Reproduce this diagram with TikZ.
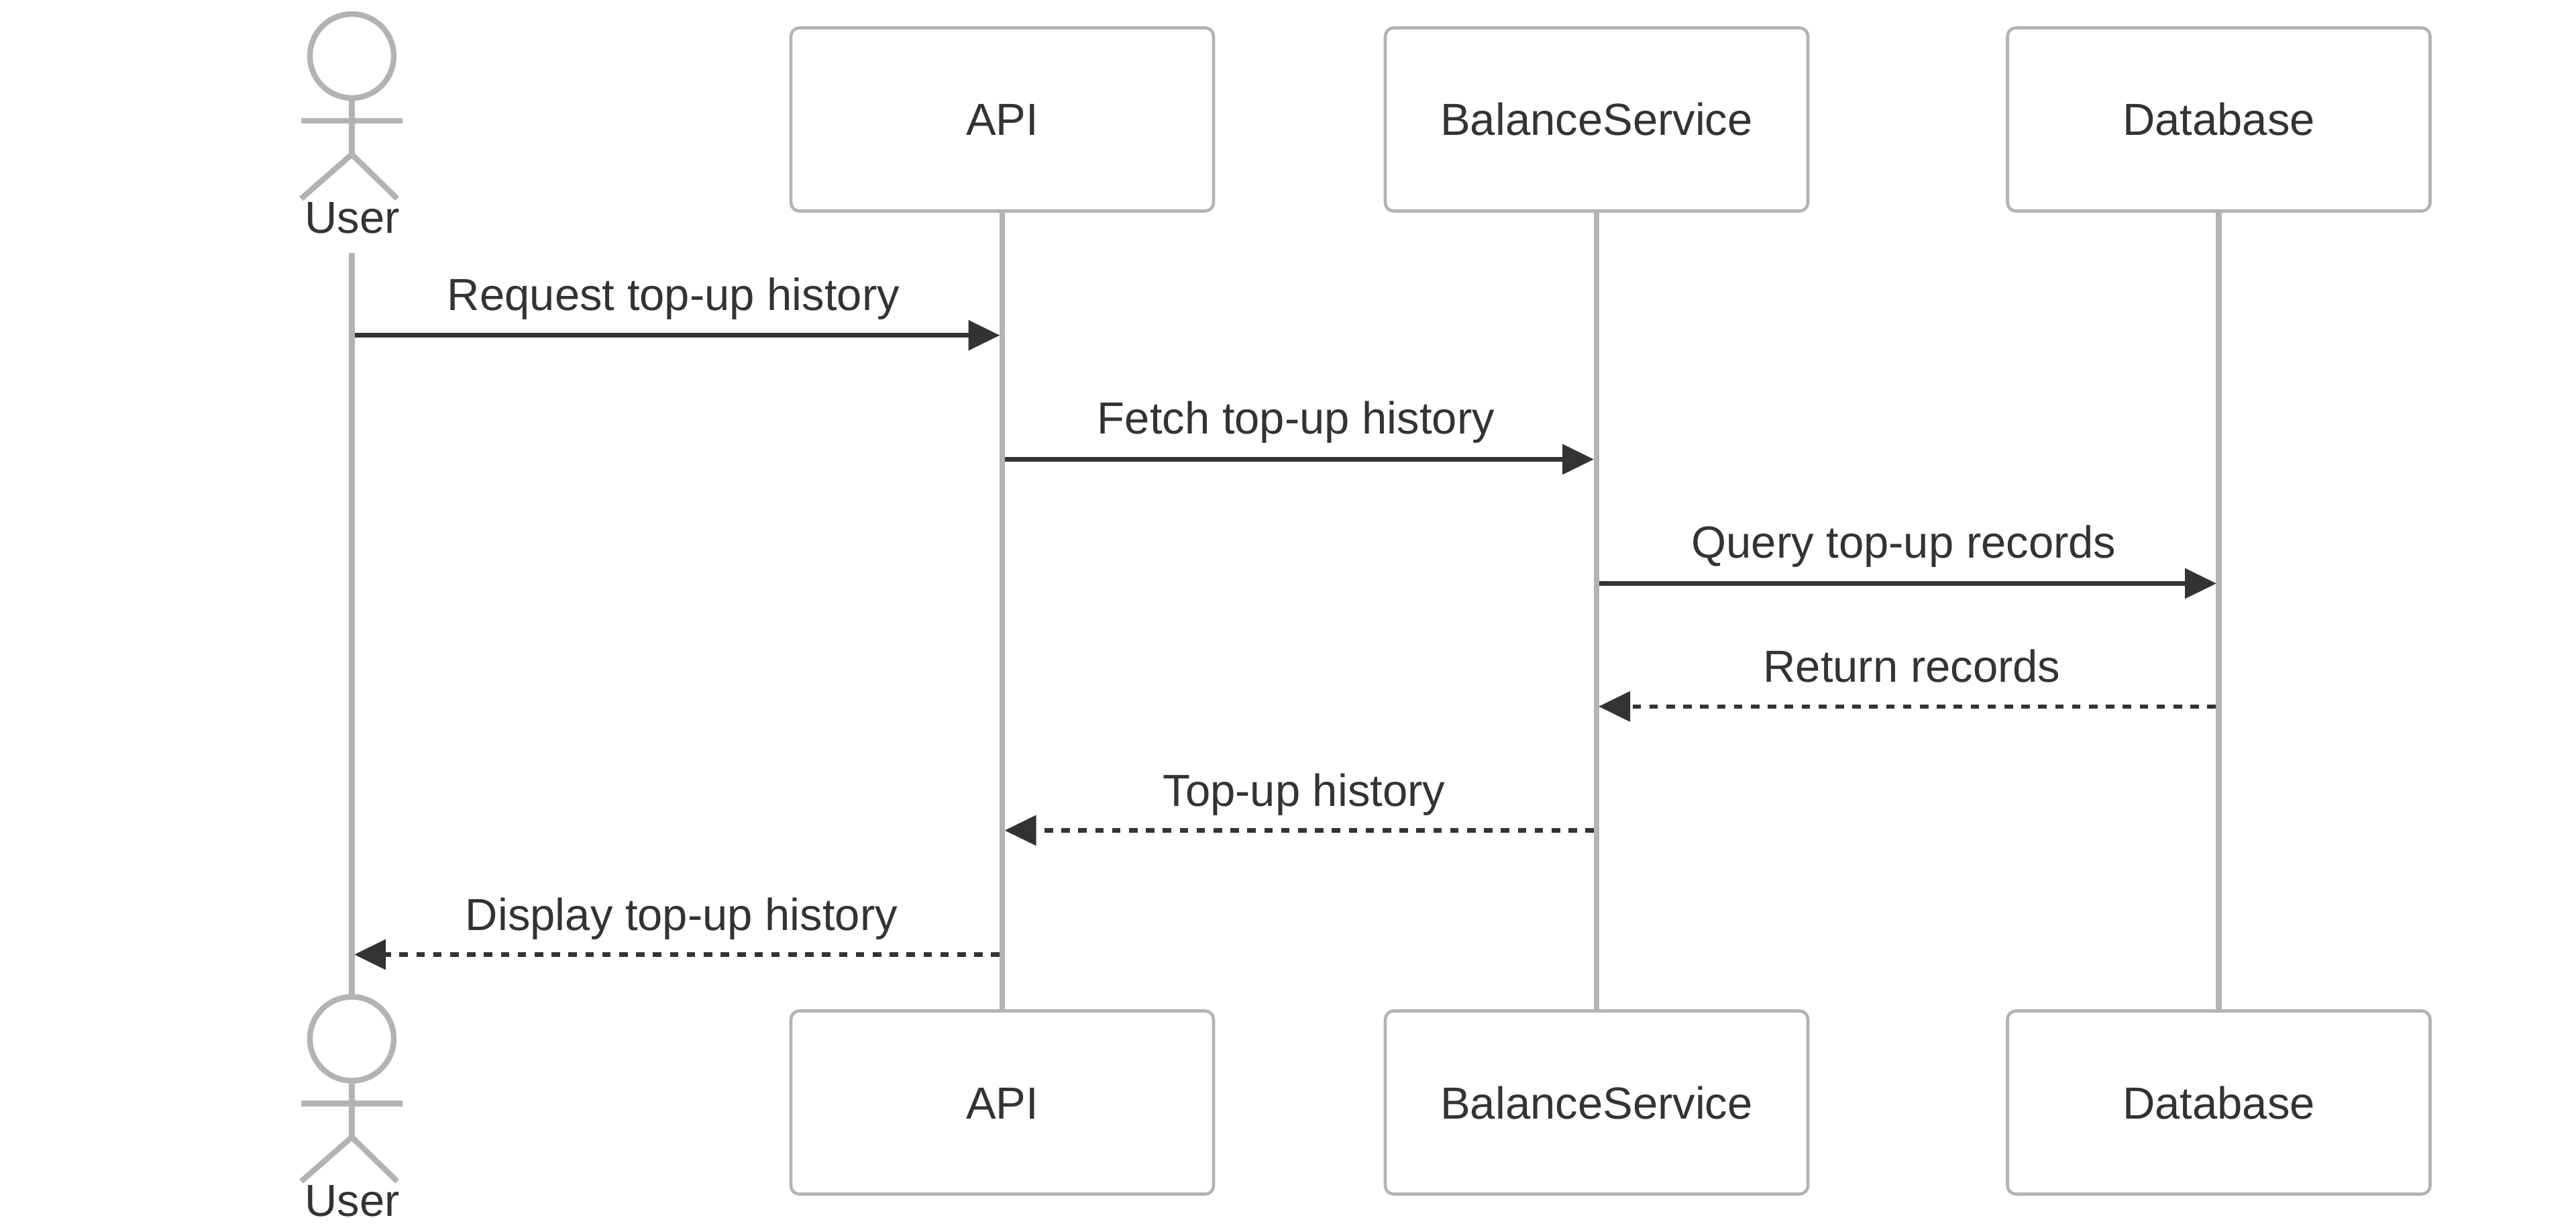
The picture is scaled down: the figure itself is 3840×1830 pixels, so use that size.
\documentclass[tikz,border=0pt]{standalone}
\usepackage{fontspec}
\setmainfont{Liberation Sans}
\usetikzlibrary{arrows.meta}
\definecolor{lifegray}{HTML}{B3B3B3}
\definecolor{inkdark}{HTML}{333333}
\tikzset{
  x=0.5pt,y=-0.5pt,
  every node/.style={font=\fontsize{33.5pt}{40pt}\selectfont,text=inkdark},
  partbox/.style={draw=lifegray,line width=2.3pt,fill=white,rounded corners=6.3pt,inner sep=0pt,
    minimum width=315pt,minimum height=136.5pt,text height=24pt,text depth=0pt},
  lifeline/.style={draw=lifegray,line width=4.2pt},
  actorhead/.style={circle,draw=lifegray,line width=4.2pt,fill=white,inner sep=0pt,minimum size=62.5pt},
  actorlimb/.style={draw=lifegray,line width=4.2pt},
  msglabel/.style={anchor=base,inner sep=0pt},
  syncmsg/.style={draw=inkdark,line width=3.3pt,-{Triangle[length=23.5pt,width=22pt]}},
  replymsg/.style={syncmsg,dash pattern=on 6.3pt off 6.3pt},
}
\newcommand{\stickman}[2]{%
  \begin{scope}[shift={(0,#2)}]
    \node[actorhead] (#1head) at (524.5,83.5) {};
    \coordinate (#1hip) at (524.5,230);
    \coordinate (#1al) at (449,180);
    \coordinate (#1ar) at (600,180);
    \coordinate (#1ll) at (449,296);
    \coordinate (#1lr) at (592,296);
    \draw[actorlimb] (#1head.south) -- (#1hip);
    \draw[actorlimb] (#1al) -- (#1ar);
    \draw[actorlimb,line join=miter] (#1ll) -- (#1hip) -- (#1lr);
    \node[anchor=base,inner sep=0pt] (#1label) at (525,348) {User};
  \end{scope}}
\begin{document}
\begin{tikzpicture}
\useasboundingbox (0,0) rectangle (3840,1830);
\fill[white] (0,0) rectangle (3840,1830);
% lifeline end points
\coordinate (userT) at (524.5,377);
\coordinate (userB) at (524.5,1485);
% participants
\node[partbox] (apiT) at (1494,178) {API};
\node[partbox] (balT) at (2380,178) {BalanceService};
\node[partbox] (dbT)  at (3307.5,178) {Database};
\node[partbox] (apiB) at (1494,1643) {API};
\node[partbox] (balB) at (2380,1643) {BalanceService};
\node[partbox] (dbB)  at (3307.5,1643) {Database};
% lifelines
\draw[lifeline] (userT) -- (userB);
\draw[lifeline] (apiT.south) -- (apiB.north);
\draw[lifeline] (balT.south) -- (balB.north);
\draw[lifeline] (dbT.south) -- (dbB.north);
% actors
\stickman{ua}{0}
\stickman{ub}{1464.5}
% message anchors
\coordinate (m1a) at (529,499.7);   \coordinate (m1b) at (1490.5,499.7);
\coordinate (m2a) at (1498,684.5);  \coordinate (m2b) at (2376,684.5);
\coordinate (m3a) at (2384,869.5);  \coordinate (m3b) at (3304,869.5);
\coordinate (m4a) at (3303,1052.8); \coordinate (m4b) at (2383,1052.8);
\coordinate (m5a) at (2376,1237.5); \coordinate (m5b) at (1497.5,1237.5);
\coordinate (m6a) at (1490,1422.5); \coordinate (m6b) at (528,1422.5);
% messages
\draw[syncmsg] (m1a) -- (m1b);
\draw[syncmsg] (m2a) -- (m2b);
\draw[syncmsg] (m3a) -- (m3b);
\draw[replymsg] (m4a) -- (m4b);
\draw[replymsg] (m5a) -- (m5b);
\draw[replymsg] (m6a) -- (m6b);
% labels
\node[msglabel] (l1) at (1004,462) {Request top-up history};
\node[msglabel] (l2) at (1932,646) {Fetch top-up history};
\node[msglabel] (l3) at (2838,831) {Query top-up records};
\node[msglabel] (l4) at (2850,1016) {Return records};
\node[msglabel] (l5) at (1944,1201) {Top-up history};
\node[msglabel] (l6) at (1016,1386) {Display top-up history};
\end{tikzpicture}
\end{document}
